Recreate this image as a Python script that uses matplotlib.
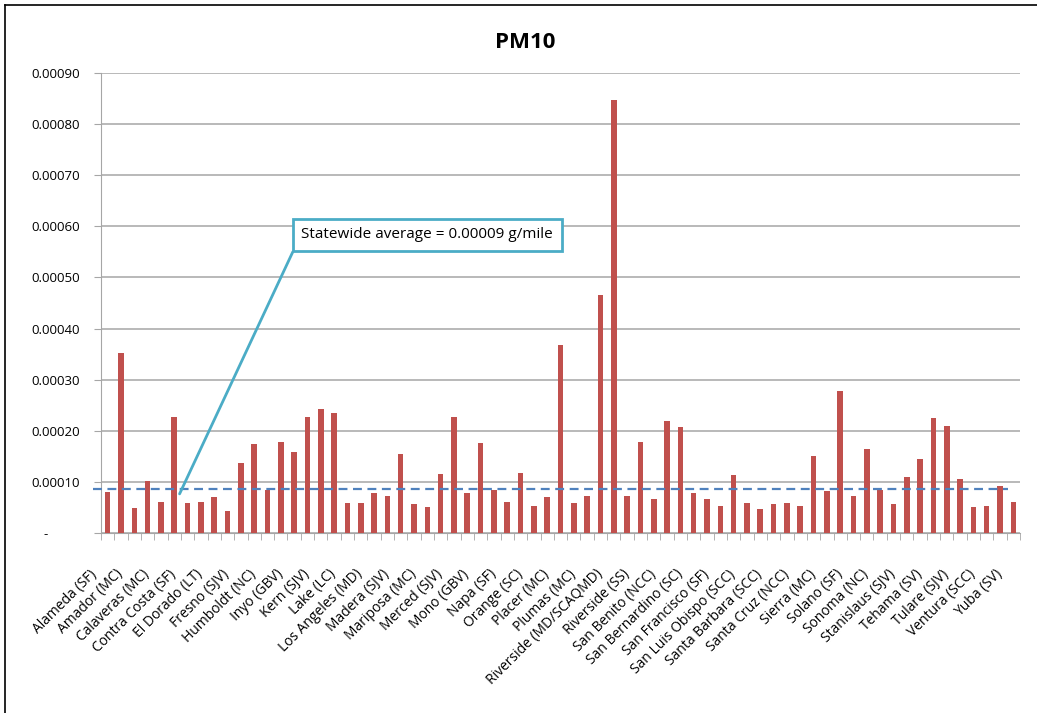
import matplotlib
matplotlib.use("Agg")
import matplotlib.pyplot as plt
import matplotlib.transforms as mtransforms
from matplotlib.lines import Line2D
from matplotlib.ticker import FuncFormatter

counties = [
    "Alameda (SF)", "Alpine (MC)", "Amador (MC)", "Butte (SV)", "Calaveras (MC)",
    "Colusa (SV)", "Contra Costa (SF)", "Del Norte (NC)", "El Dorado (LT)", "El Dorado (MC)",
    "Fresno (SJV)", "Glenn (SV)", "Humboldt (NC)", "Imperial (SS)", "Inyo (GBV)",
    "Kern (MD)", "Kern (SJV)", "Kings (SJV)", "Lake (LC)", "Lassen (NEP)",
    "Los Angeles (MD)", "Los Angeles (SC)", "Madera (SJV)", "Marin (SF)", "Mariposa (MC)",
    "Mendocino (NC)", "Merced (SJV)", "Modoc (NEP)", "Mono (GBV)", "Monterey (NCC)",
    "Napa (SF)", "Nevada (MC)", "Orange (SC)", "Placer (LT)", "Placer (MC)",
    "Placer (SV)", "Plumas (MC)", "Riverside (MD)", "Riverside (MD/SCAQMD)", "Riverside (SC)",
    "Riverside (SS)", "Sacramento (SV)", "San Benito (NCC)", "San Bernardino (MD)", "San Bernardino (SC)",
    "San Diego (SD)", "San Francisco (SF)", "San Joaquin (SJV)", "San Luis Obispo (SCC)", "San Mateo (SF)",
    "Santa Barbara (SCC)", "Santa Clara (SF)", "Santa Cruz (NCC)", "Shasta (SV)", "Sierra (MC)",
    "Siskiyou (NEP)", "Solano (SF)", "Solano (SV)", "Sonoma (NC)", "Sonoma (SF)",
    "Stanislaus (SJV)", "Sutter (SV)", "Tehama (SV)", "Trinity (NC)", "Tulare (SJV)",
    "Tuolumne (MC)", "Ventura (SCC)", "Yolo (SV)", "Yuba (SV)",
]

# g/mile (x 1e-4)
pm10 = [
    0.80, 3.52, 0.49, 1.03, 0.62, 2.27, 0.59, 0.62, 0.70, 0.44,
    1.38, 1.74, 0.85, 1.79, 1.58, 2.27, 2.42, 2.35, 0.59, 0.59,
    0.78, 0.72, 1.54, 0.57, 0.51, 1.15, 2.27, 0.78, 1.77, 0.85,
    0.62, 1.18, 0.54, 0.70, 3.67, 0.59, 0.72, 4.66, 8.46, 0.72,
    1.79, 0.67, 2.20, 2.07, 0.78, 0.67, 0.54, 1.13, 0.59, 0.47,
    0.57, 0.59, 0.54, 1.51, 0.82, 2.78, 0.72, 1.64, 0.85, 0.57,
    1.10, 1.46, 2.25, 2.10, 1.07, 0.51, 0.54, 0.93, 0.62,
]
pm10 = [v * 1e-4 for v in pm10]

statewide_avg = 0.000086
avg_text = "Statewide average = 0.00009 g/mile"

font = "Open Sans"
plt.rcParams["font.family"] = [font, "DejaVu Sans"]

fig = plt.figure(figsize=(10.37, 7.13), dpi=100)
ax = fig.add_axes([101 / 1037, 1 - 533.3 / 713, (1020 - 101) / 1037, (533.3 - 72.7) / 713])

x = list(range(len(counties)))
ax.bar(x, pm10, width=0.42, color="#C0504D", zorder=3)

ax.set_xlim(-0.5, len(counties) - 0.5)
ax.set_ylim(0, 0.0009)
ax.set_yticks([i * 0.0001 for i in range(10)])
ax.yaxis.set_major_formatter(FuncFormatter(lambda v, p: "-         " if v == 0 else f"{v:.5f}"))
ax.grid(axis="y", color="#A6A6A6", linewidth=1.1, zorder=0)
ax.tick_params(axis="y", length=5, color="#A6A6A6", pad=10, labelsize=9.5)

# labels on every other category, ticks between categories
ax.set_xticks(x[::2])
ax.set_xticklabels(counties[::2], rotation=45, ha="right", rotation_mode="anchor", fontsize=10)
ax.set_xticks([i - 0.5 for i in range(len(counties) + 1)], minor=True)
ax.tick_params(axis="x", which="major", length=0, pad=24)
ax.tick_params(axis="x", which="minor", length=5, color="#A6A6A6")
shift = mtransforms.ScaledTranslation(-0.19, 0, fig.dpi_scale_trans)
for lbl in ax.get_xticklabels():
    lbl.set_transform(lbl.get_transform() + shift)

for s in ["top", "right"]:
    ax.spines[s].set_visible(False)
ax.spines["left"].set_color("#A6A6A6")
ax.spines["bottom"].set_color("#A6A6A6")

ax.plot([-1.1, 67.6], [statewide_avg, statewide_avg], color="#4F81BD", linestyle=(0, (4, 2.5)),
        linewidth=1.6, clip_on=False, zorder=4)

ax.annotate(avg_text, xy=(5.4, 0.000077), xytext=(24.0, 0.000583), fontsize=11,
            ha="center", va="center", zorder=5,
            bbox=dict(boxstyle="square,pad=0.55", fc="white", ec="#4BACC6", lw=2),
            arrowprops=dict(arrowstyle="-", color="#4BACC6", lw=2, shrinkA=0, shrinkB=0,
                            relpos=(0, 0.6)))

fig.text(0.506, 1 - 42 / 713, "PM10", ha="center", va="center", fontsize=16, fontweight="bold")

# outer frame lines (top and left only)
fig.add_artist(Line2D([5 / 1037, 1], [1 - 5 / 713, 1 - 5 / 713], color="black", lw=1.2))
fig.add_artist(Line2D([5 / 1037, 5 / 1037], [0, 1 - 5 / 713], color="black", lw=1.2))

fig.savefig("out.png", dpi=100)
